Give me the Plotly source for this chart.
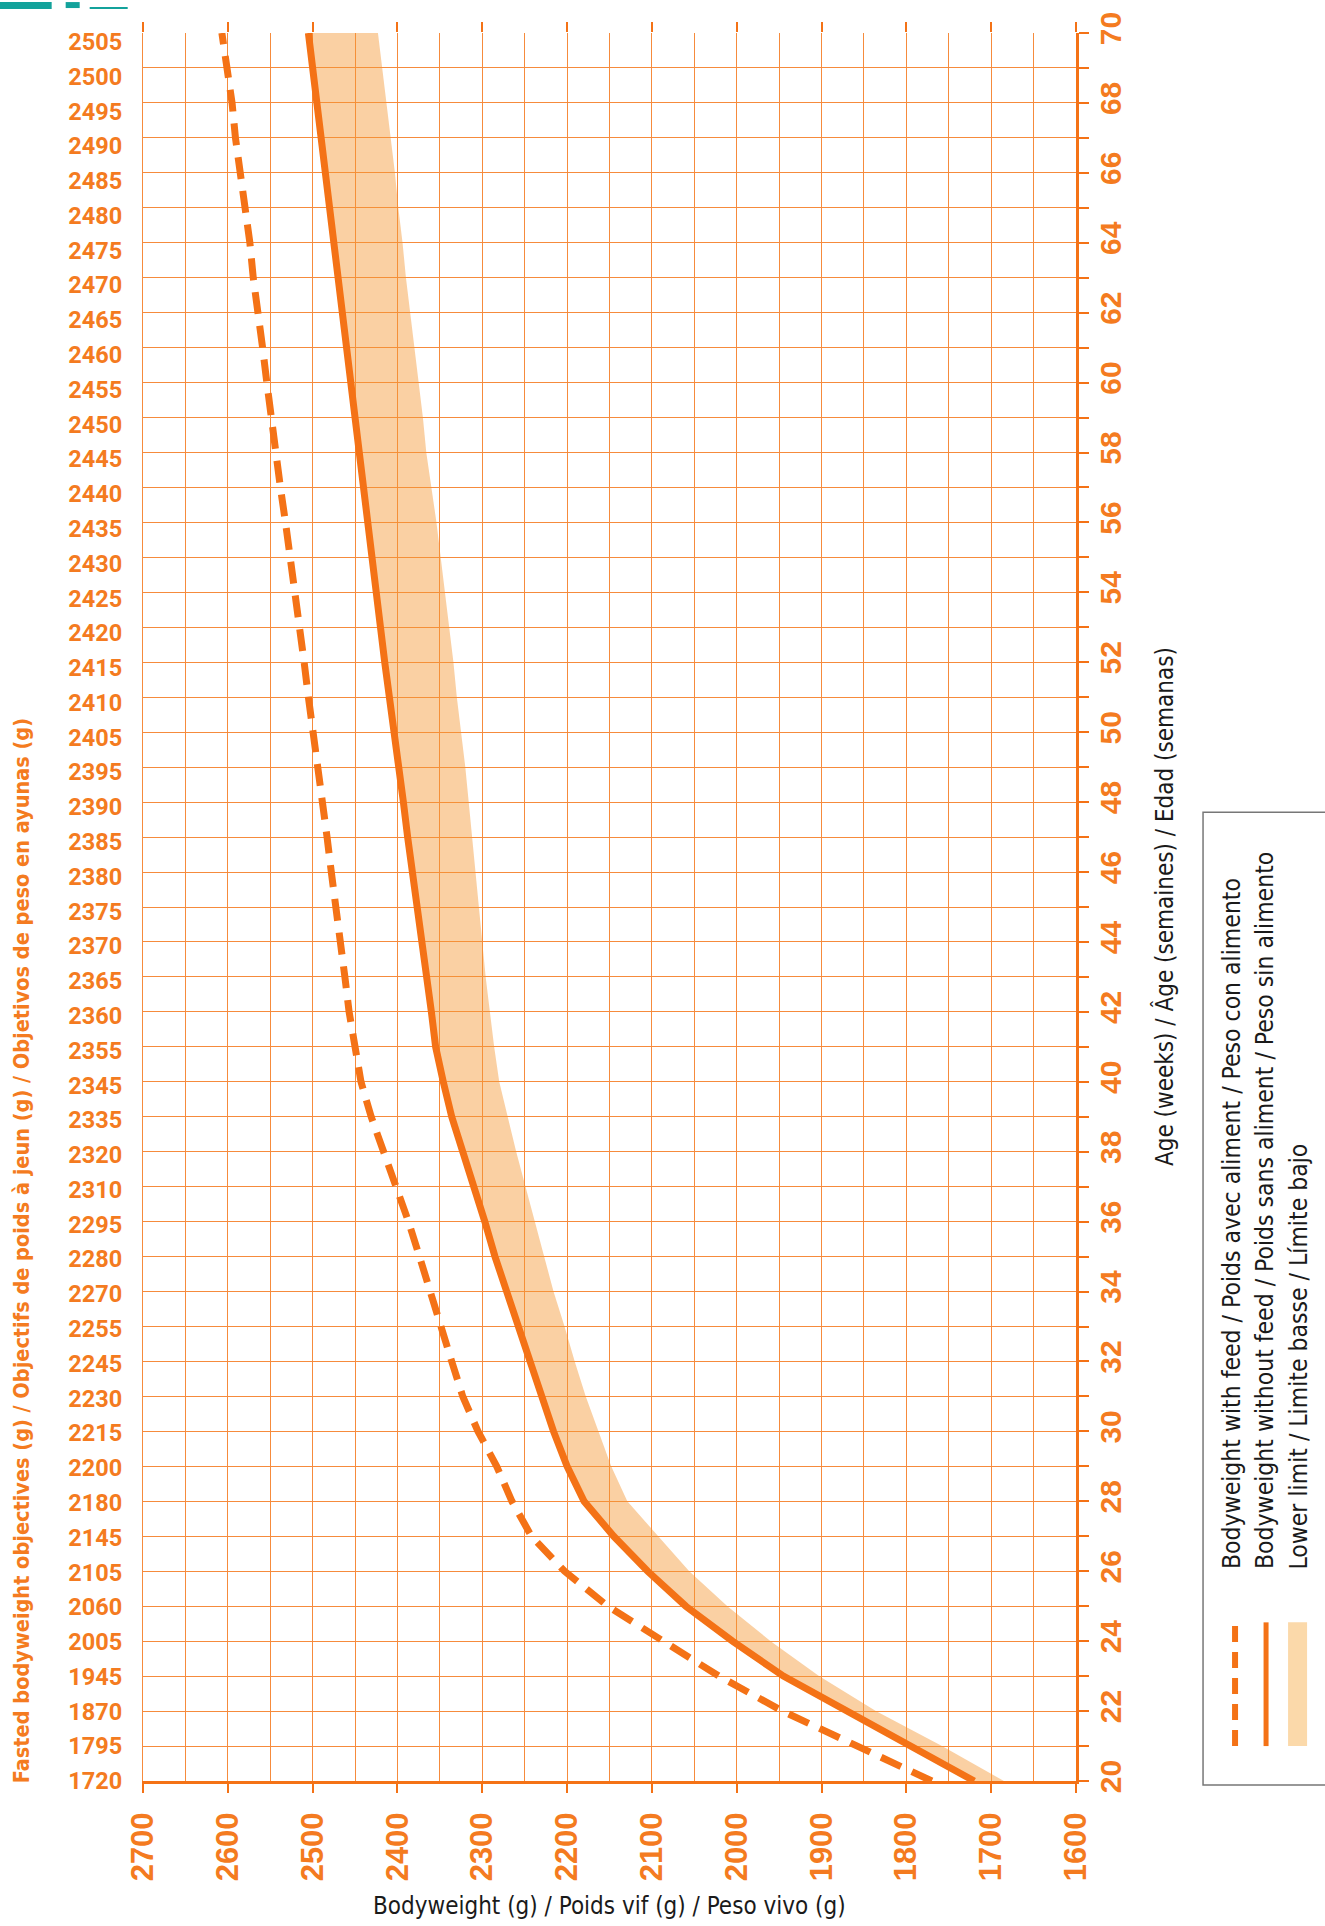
import plotly.graph_objects as go

weeks = list(range(20, 71))
fasted_labels = [1720, 1795, 1870, 1945, 2005, 2060, 2105, 2145, 2180, 2200,
                 2215, 2230, 2245, 2255, 2270, 2280, 2295, 2310, 2320, 2335,
                 2345, 2355, 2360, 2365, 2370, 2375, 2380, 2385, 2390, 2395,
                 2405, 2410, 2415, 2420, 2425, 2430, 2435, 2440, 2445, 2450,
                 2455, 2460, 2465, 2470, 2475, 2480, 2485, 2490, 2495, 2500, 2505]
# solid line (very close to the labels)
without_feed = [1720, 1795, 1870, 1945, 2005, 2060, 2105, 2145, 2180, 2200,
                2216, 2230, 2244, 2258, 2272, 2285, 2297, 2310, 2323, 2336,
                2346, 2355, 2360, 2366, 2371, 2377, 2382, 2388, 2393, 2399,
                2404, 2410, 2415, 2420, 2425, 2430, 2435, 2440, 2445, 2450,
                2455, 2460, 2465, 2470, 2475, 2480, 2485, 2490, 2495, 2500, 2505]
with_feed = [1770, 1860, 1946, 2021, 2087, 2152, 2203, 2242, 2265, 2283,
             2305, 2323, 2336, 2348, 2362, 2374, 2387, 2402, 2418, 2431,
             2443, 2451, 2457, 2462, 2468, 2473, 2478, 2483, 2489, 2495,
             2500, 2505, 2510, 2515, 2522, 2527, 2532, 2538, 2544, 2549,
             2554, 2559, 2565, 2570, 2574, 2580, 2585, 2591, 2595, 2601, 2607]
lower_limit = [1685, 1758, 1836, 1903, 1960, 2011, 2056, 2093, 2129, 2148,
               2163, 2178, 2191, 2203, 2216, 2227, 2238, 2249, 2260, 2270,
               2280, 2286, 2291, 2296, 2300, 2304, 2308, 2312, 2316, 2320,
               2325, 2330, 2334, 2339, 2344, 2349, 2354, 2360, 2366, 2370,
               2375, 2380, 2385, 2390, 2394, 2399, 2403, 2408, 2413, 2418, 2423]
bw_ticks = list(range(1600, 2701, 100))
age_ticktext = [str(w) if w % 2 == 0 else "" for w in weeks]

legend_texts = ["Bodyweight with feed / Poids avec aliment / Peso con alimento",
                "Bodyweight without feed / Poids sans aliment / Peso sin alimento",
                "Lower limit / Limite basse / Límite bajo"]
title_left = "Fasted bodyweight objectives (g) / Objectifs de poids à jeun (g) / Objetivos de peso en ayunas (g)"
title_right = "Age (weeks) / Âge (semaines) / Edad (semanas)"
title_bottom = "Bodyweight (g) / Poids vif (g) / Peso vivo (g)"

ORANGE = "#F47216"
TXT_OR = "#F47B20"
GRID = "#F68B3C"
BAND = "rgba(245,150,50,0.45)"
TEAL = "#13A29B"
COND = "Liberation Sans Narrow, DejaVu Sans Condensed, Roboto Condensed, Roboto"

fig = go.Figure()

fig.add_trace(go.Scatter(
    x=without_feed + lower_limit[::-1], y=weeks + weeks[::-1],
    fill="toself", fillcolor=BAND, mode="lines", line=dict(width=0),
    hoverinfo="skip", showlegend=False))
fig.add_trace(go.Scatter(
    x=with_feed, y=weeks, mode="lines",
    line=dict(color=ORANGE, width=7, dash="22px,12px"), showlegend=False))
fig.add_trace(go.Scatter(
    x=without_feed, y=weeks, mode="lines",
    line=dict(color=ORANGE, width=7), showlegend=False))
fig.add_trace(go.Scatter(x=[2700], y=[20], xaxis="x2", yaxis="y2", mode="markers",
                         marker=dict(opacity=0), hoverinfo="skip", showlegend=False))

# labels on the left sit slightly below their grid lines in the original
label_pos = [max(20.0, w - 0.25 * (w - 20) / 50) for w in weeks]

fig.update_layout(
    width=1325, height=1926,
    margin=dict(l=143, r=249, t=29, b=145),
    paper_bgcolor="white", plot_bgcolor="white",
    showlegend=False,
    xaxis=dict(range=[2700, 1600], tickvals=bw_ticks, ticktext=[str(v) for v in bw_ticks],
               showgrid=True, gridcolor=GRID, gridwidth=1.3,
               minor=dict(dtick=50, tick0=1600, showgrid=True, gridcolor=GRID, gridwidth=1.3),
               showline=True, linecolor=ORANGE, linewidth=3,
               ticks="outside", ticklen=9, tickwidth=2, tickcolor=ORANGE,
               tickangle=-90, ticklabelstandoff=7,
               tickfont=dict(family="Liberation Sans", size=31, color=TXT_OR, weight=700),
               zeroline=False),
    xaxis2=dict(range=[2700, 1600], overlaying="x", side="top", tickvals=bw_ticks,
                showticklabels=False, showgrid=False, showline=False,
                ticks="outside", ticklen=10, tickwidth=2, tickcolor=ORANGE, zeroline=False),
    yaxis=dict(range=[20, 70], tickvals=label_pos,
               ticktext=[str(v) for v in fasted_labels],
               showgrid=False, showline=True, linecolor=GRID, linewidth=1.3,
               ticks="", ticklabelstandoff=15,
               tickfont=dict(family="Roboto", size=23.5, color=TXT_OR, weight=700),
               zeroline=False),
    yaxis2=dict(range=[20, 70], overlaying="y", side="right", tickvals=weeks,
                ticktext=age_ticktext, showgrid=True, gridcolor=GRID, gridwidth=1.3,
                showline=True, linecolor=ORANGE, linewidth=3,
                ticks="outside", ticklen=10, tickwidth=2, tickcolor=ORANGE,
                tickangle=-90, ticklabelstandoff=-4,
                tickfont=dict(family="Liberation Sans", size=30, color=TXT_OR, weight=700),
                zeroline=False),
)

def px_x(px):
    return (px - 143.3) / 932.7

def px_y(py):
    return (1781 - py) / 1752

ann = []
ann.append(dict(text=title_left, x=px_x(22), y=px_y(1785), xref="paper", yref="paper",
                xanchor="center", yanchor="bottom", textangle=-90, showarrow=False,
                font=dict(family=COND, size=21.5, color=TXT_OR, weight=600)))
ann.append(dict(text=title_right, x=px_x(1164), y=0.5, xref="paper", yref="paper",
                xanchor="center", yanchor="middle", textangle=-90, showarrow=False,
                font=dict(family=COND, size=24, color="#1a1a1a")))
ann.append(dict(text=title_bottom, x=0.5, y=px_y(1906), xref="paper", yref="paper",
                xanchor="center", yanchor="middle", showarrow=False,
                font=dict(family=COND, size=24, color="#1a1a1a")))
for txt, cx in zip(legend_texts, [1232, 1265, 1298]):
    ann.append(dict(text=txt, x=px_x(cx), y=px_y(1571), xref="paper", yref="paper",
                    xanchor="center", yanchor="bottom", textangle=-90, showarrow=False,
                    font=dict(family=COND, size=24.5, color="#1a1a1a")))
fig.update_layout(annotations=ann)

shapes = []
shapes.append(dict(type="rect", xref="paper", yref="paper",
                   x0=px_x(1203), x1=px_x(1340), y0=px_y(1785), y1=px_y(810),
                   line=dict(color="#777777", width=1.5), fillcolor="rgba(0,0,0,0)"))
shapes.append(dict(type="line", xref="paper", yref="paper",
                   x0=px_x(1235), x1=px_x(1235), y0=px_y(1746), y1=px_y(1622),
                   line=dict(color=ORANGE, width=6, dash="16px,10px")))
shapes.append(dict(type="line", xref="paper", yref="paper",
                   x0=px_x(1266), x1=px_x(1266), y0=px_y(1746), y1=px_y(1622),
                   line=dict(color=ORANGE, width=5)))
shapes.append(dict(type="rect", xref="paper", yref="paper",
                   x0=px_x(1288), x1=px_x(1307), y0=px_y(1746), y1=px_y(1622),
                   line=dict(width=0), fillcolor="#FBD9AA"))
# cut-off logo at the top-left corner
shapes.append(dict(type="rect", xref="paper", yref="paper",
                   x0=px_x(0), x1=px_x(52), y0=px_y(5), y1=px_y(-2),
                   line=dict(width=0), fillcolor=TEAL))
shapes.append(dict(type="rect", xref="paper", yref="paper",
                   x0=px_x(66), x1=px_x(80), y0=px_y(4), y1=px_y(-2),
                   line=dict(width=0), fillcolor=TEAL))
shapes.append(dict(type="rect", xref="paper", yref="paper",
                   x0=px_x(90), x1=px_x(128), y0=px_y(5), y1=px_y(3),
                   line=dict(width=0), fillcolor=TEAL))
fig.update_layout(shapes=shapes)

fig.write_html("out.html", config={"displayModeBar": False},
               post_script="document.body.style.margin='0px';")
